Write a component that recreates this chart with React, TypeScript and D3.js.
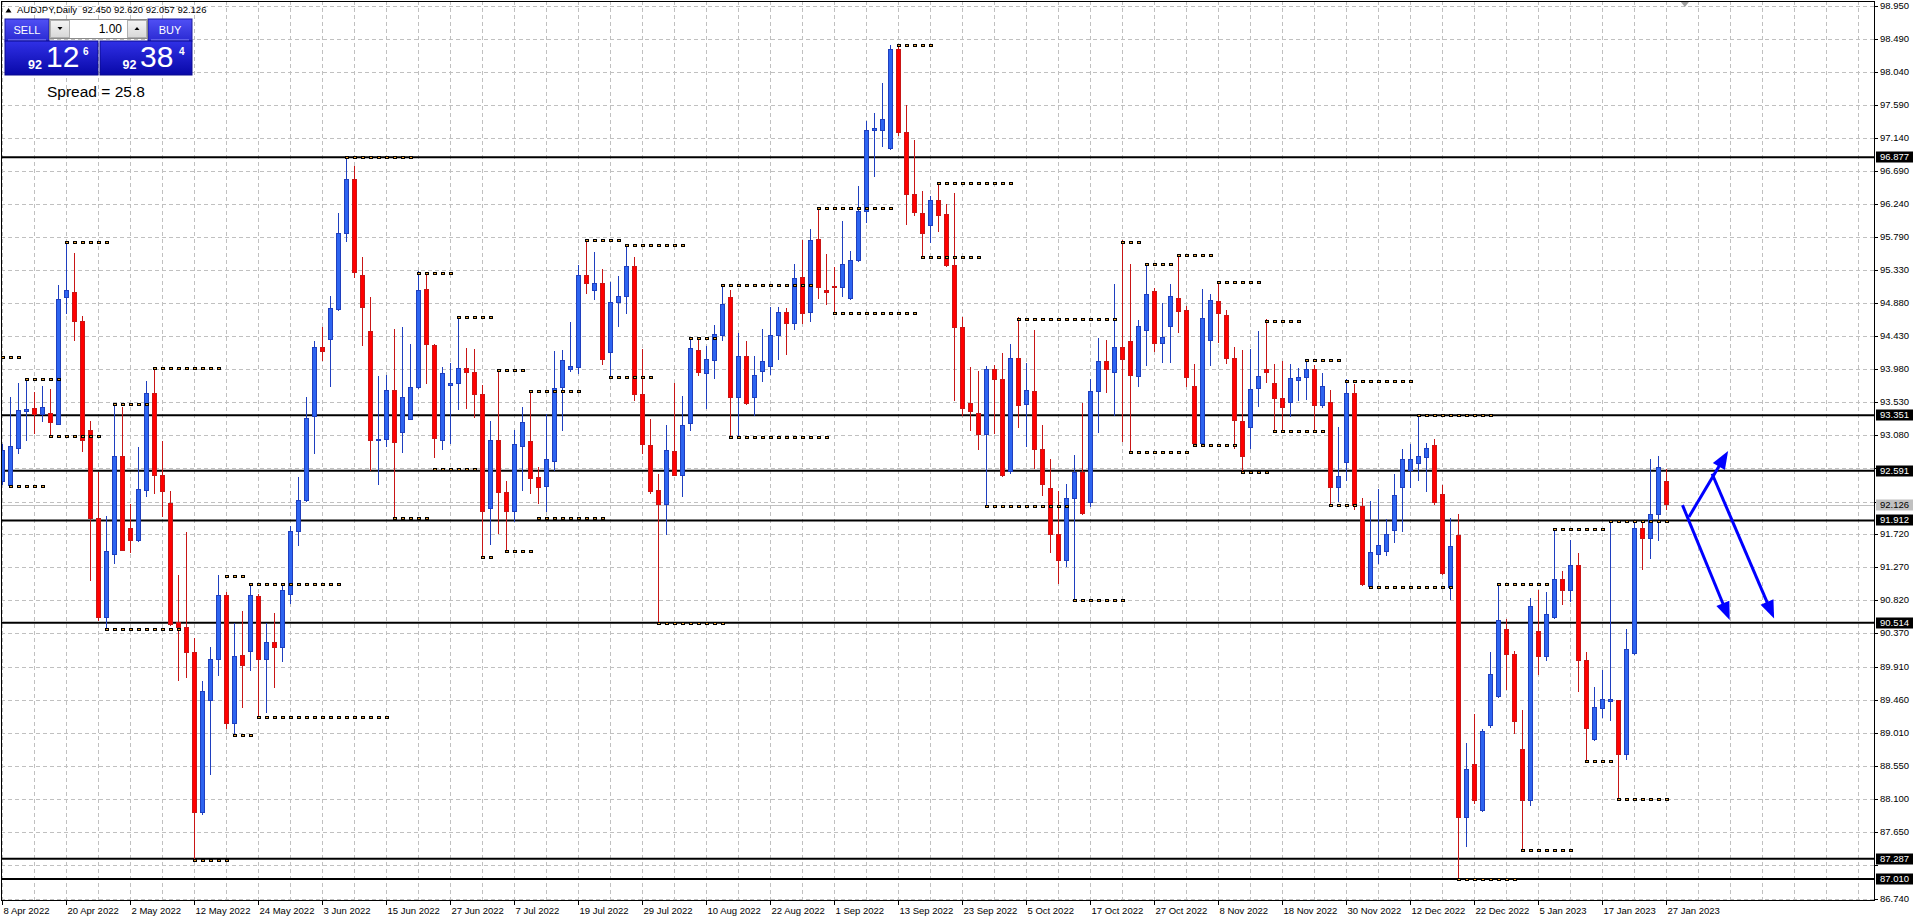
import React from 'react';
import * as d3 from 'd3';

// ---------- DATA ----------
const opens = [
  92.44, 92.39, 92.90, 93.40, 93.44, 93.36, 93.38, 93.23, 94.96, 95.03,
  94.63, 93.14, 91.94, 90.58, 91.45, 92.78, 91.80, 91.64, 92.32, 93.65,
  92.52, 92.14, 90.51, 90.45, 90.11, 87.92, 89.45, 90.01, 90.88, 89.14,
  90.06, 90.12, 90.87, 90.01, 90.24, 90.18, 90.90, 91.76, 92.19, 93.33,
  94.27, 94.38, 94.80, 95.83, 96.58, 95.26, 94.50, 93.00, 93.02, 93.69,
  93.11, 93.29, 93.73, 95.07, 94.31, 93.00, 93.76, 93.78, 93.99, 93.94,
  93.64, 92.08, 93.01, 92.29, 92.03, 92.92, 92.99, 92.50, 92.37, 92.72,
  93.73, 93.97, 94.00, 95.26, 95.06, 95.15, 94.21, 94.89, 94.98, 95.38,
  93.63, 92.94, 92.32, 92.13, 92.85, 92.52, 93.24, 94.24, 93.92, 94.10,
  94.44, 94.96, 93.59, 94.15, 93.59, 93.95, 94.02, 94.44, 94.76, 94.60,
  95.24, 94.75, 95.75, 95.06, 95.11, 95.09, 94.94, 95.46, 96.14, 97.24,
  97.24, 96.997, 98.35, 97.21, 96.37, 96.11, 95.94, 96.28, 96.10, 95.40,
  94.55, 93.51, 93.38, 93.08, 93.98, 93.84, 92.58, 94.12, 93.50, 93.67,
  92.88, 92.35, 91.72, 91.37, 92.21, 92.57, 92.15, 93.67, 94.08, 93.94,
  94.27, 94.36, 93.88, 94.51, 95.04, 94.33, 94.56, 94.95, 94.78, 93.74,
  92.97, 94.37, 94.91, 94.72, 94.12, 93.26, 93.18, 93.71, 93.97, 93.79,
  93.58, 93.52, 93.82, 93.86, 93.97, 93.48, 93.52, 92.36, 92.70, 93.65,
  92.10, 91.01, 91.45, 91.49, 91.78, 92.36, 92.59, 92.69, 92.77, 92.93,
  92.26, 91.00, 91.71, 87.85, 88.57, 87.95, 89.11, 89.50, 90.42, 90.08,
  88.78, 88.08, 90.39, 90.05, 90.59, 91.10, 90.96, 91.30, 89.99, 88.92,
  89.34, 89.44, 89.45, 88.71, 90.09, 91.80, 91.67, 91.99, 92.45,
];
const highs = [
  92.95, 93.60, 93.79, 93.86, 93.67, 93.75, 93.71, 95.13, 95.72, 95.57,
  94.71, 93.27, 92.58, 91.97, 93.51, 93.46, 92.14, 92.92, 93.82, 94.01,
  93.00, 92.32, 91.16, 91.76, 90.31, 89.72, 90.18, 91.16, 90.93, 90.51,
  90.68, 91.04, 90.91, 90.51, 90.64, 91.03, 91.83, 92.50, 93.60, 94.36,
  94.56, 94.98, 96.12, 96.877, 96.76, 95.52, 94.96, 93.88, 93.90, 94.53,
  94.55, 94.33, 95.32, 95.29, 94.33, 94.01, 94.06, 94.71, 94.27, 94.26,
  93.77, 93.27, 93.97, 92.45, 93.15, 93.46, 93.69, 92.64, 93.37, 94.23,
  94.24, 94.63, 95.40, 95.75, 95.58, 95.35, 95.17, 95.25, 95.68, 95.52,
  94.25, 93.30, 92.55, 93.21, 93.79, 93.61, 94.40, 94.40, 94.30, 94.59,
  95.13, 95.06, 94.47, 94.36, 94.16, 94.53, 94.83, 94.83, 94.82, 95.42,
  95.75, 95.90, 96.20, 95.55, 95.38, 96.01, 95.59, 96.49, 97.37, 97.48,
  97.89, 98.41, 98.41, 97.59, 97.12, 96.41, 96.35, 96.53, 96.24, 96.39,
  94.70, 94.01, 93.96, 94.02, 94.04, 94.20, 94.33, 94.69, 94.07, 94.52,
  93.21, 92.75, 92.32, 92.41, 92.81, 93.52, 93.84, 94.40, 94.38, 95.15,
  95.74, 95.42, 94.65, 95.42, 95.09, 94.89, 95.15, 95.54, 94.84, 94.05,
  95.07, 95.01, 95.19, 94.79, 94.28, 94.24, 94.26, 94.50, 94.66, 94.05,
  94.09, 94.05, 94.00, 94.12, 94.04, 93.93, 93.70, 93.19, 93.85, 93.78,
  92.22, 92.18, 92.34, 91.93, 92.55, 92.89, 92.95, 93.351, 92.97, 93.03,
  92.39, 91.94, 92.00, 88.87, 89.26, 89.06, 90.11, 91.06, 90.56, 90.13,
  89.32, 90.85, 90.96, 90.93, 91.81, 91.22, 91.65, 91.47, 90.11, 89.64,
  89.87, 91.912, 89.46, 90.43, 91.89, 91.89, 92.75, 92.79, 92.62,
];
const lows = [
  92.40, 92.35, 92.82, 93.00, 93.09, 93.26, 93.04, 93.21, 94.73, 94.37,
  92.85, 91.08, 90.54, 90.44, 91.31, 91.49, 91.47, 91.62, 92.23, 92.27,
  91.96, 90.47, 89.72, 89.76, 87.287, 87.88, 88.43, 89.78, 89.06, 88.97,
  89.35, 89.85, 89.22, 89.28, 89.62, 89.97, 90.77, 91.56, 92.17, 92.82,
  94.09, 93.74, 94.78, 95.72, 95.22, 94.30, 92.59, 92.40, 92.91, 91.93,
  92.83, 93.28, 93.71, 93.78, 92.77, 92.88, 92.96, 93.42, 93.44, 93.31,
  91.41, 91.57, 91.72, 91.50, 91.89, 92.31, 92.27, 92.14, 92.03, 92.59,
  93.13, 93.94, 93.92, 95.01, 94.92, 94.04, 93.87, 94.55, 94.73, 93.55,
  92.82, 92.27, 90.514, 91.71, 92.52, 92.23, 93.13, 93.88, 93.44, 93.84,
  94.36, 93.05, 93.05, 93.49, 93.34, 93.80, 93.90, 94.10, 94.17, 94.51,
  94.60, 94.62, 94.94, 94.86, 94.75, 94.97, 94.93, 95.45, 95.98, 96.61,
  97.02, 96.97, 97.17, 95.95, 96.07, 95.53, 95.70, 95.85, 95.38, 93.54,
  93.34, 93.13, 92.88, 92.11, 93.09, 92.50, 92.54, 93.18, 92.91, 92.62,
  92.25, 91.47, 91.04, 91.27, 90.83, 91.99, 92.09, 93.11, 93.65, 93.34,
  92.98, 92.85, 93.73, 94.02, 94.21, 94.07, 94.07, 94.48, 93.74, 92.93,
  92.93, 94.03, 94.34, 94.05, 92.89, 92.591, 92.89, 93.46, 93.79, 93.15,
  93.15, 93.32, 93.54, 93.56, 93.15, 93.45, 92.12, 92.16, 92.45, 92.06,
  91.02, 90.97, 91.31, 91.43, 91.60, 91.76, 92.36, 92.45, 92.30, 92.12,
  91.16, 90.82, 87.01, 87.44, 88.04, 87.92, 89.07, 89.48, 89.59, 88.99,
  87.40, 88.00, 89.80, 89.99, 90.56, 90.76, 90.80, 89.56, 88.62, 88.89,
  89.21, 89.17, 88.10, 88.63, 90.07, 91.23, 91.39, 91.63, 92.057,
];
const closes = [
  92.87, 92.92, 93.41, 93.43, 93.36, 93.45, 93.25, 94.93, 95.05, 94.63,
  93.00, 91.94, 90.58, 91.48, 92.79, 91.50, 91.64, 92.34, 93.65, 92.52,
  92.31, 90.49, 90.45, 90.11, 87.92, 89.57, 90.01, 90.88, 89.14, 90.05,
  89.93, 90.88, 90.01, 90.24, 90.18, 90.95, 91.76, 92.19, 93.31, 94.28,
  94.22, 94.81, 95.83, 96.58, 95.30, 94.83, 93.00, 93.02, 93.69, 92.98,
  93.59, 93.73, 95.06, 94.32, 93.03, 93.92, 93.78, 93.99, 93.94, 93.64,
  92.03, 93.01, 92.29, 92.04, 92.95, 93.25, 92.49, 92.36, 92.75, 93.72,
  94.10, 94.01, 95.26, 95.15, 95.15, 94.11, 94.89, 94.97, 95.38, 93.63,
  92.95, 92.31, 92.13, 92.87, 92.53, 93.21, 94.26, 93.94, 94.11, 94.46,
  94.86, 93.59, 94.15, 93.51, 93.90, 94.08, 94.44, 94.76, 94.60, 95.22,
  94.74, 95.74, 95.09, 95.03, 95.09, 95.41, 95.47, 96.14, 97.24, 97.27,
  97.40, 98.35, 97.22, 96.37, 96.12, 95.84, 96.29, 96.08, 95.40, 94.55,
  93.44, 93.40, 93.09, 93.98, 93.84, 92.52, 94.13, 93.48, 93.69, 92.88,
  92.40, 91.72, 91.37, 92.21, 92.57, 92.00, 93.67, 94.09, 93.97, 94.27,
  94.11, 93.90, 94.56, 95.00, 94.33, 94.41, 94.98, 94.77, 93.87, 92.97,
  94.67, 94.92, 94.74, 94.12, 93.28, 92.79, 93.70, 93.88, 93.93, 93.58,
  93.45, 93.85, 93.86, 93.97, 93.48, 93.74, 92.36, 92.51, 93.65, 92.11,
  91.04, 91.47, 91.57, 91.72, 92.25, 92.74, 92.74, 92.78, 92.90, 92.16,
  91.18, 91.56, 87.85, 88.50, 88.08, 89.03, 89.80, 90.54, 90.08, 89.16,
  88.08, 90.74, 90.05, 90.63, 91.11, 90.96, 91.30, 89.99, 89.07, 89.36,
  89.46, 89.46, 88.71, 90.15, 91.80, 91.67, 91.99, 92.63, 92.126,
];

// Date labels, one every 8 daily bars starting with bar 0
const dateLabels = [
  '8 Apr 2022', '20 Apr 2022', '2 May 2022', '12 May 2022', '24 May 2022', '3 Jun 2022',
  '15 Jun 2022', '27 Jun 2022', '7 Jul 2022', '19 Jul 2022', '29 Jul 2022', '10 Aug 2022',
  '22 Aug 2022', '1 Sep 2022', '13 Sep 2022', '23 Sep 2022', '5 Oct 2022', '17 Oct 2022',
  '27 Oct 2022', '8 Nov 2022', '18 Nov 2022', '30 Nov 2022', '12 Dec 2022', '22 Dec 2022',
  '5 Jan 2023', '17 Jan 2023', '27 Jan 2023',
];
const barsPerDateLabel = 8;
const barsPerGridColumn = 4;

// Price axis grid values
const priceTicks = [
  98.95, 98.49, 98.04, 97.59, 97.14, 96.69, 96.24, 95.79, 95.33, 94.88, 94.43, 93.98,
  93.53, 93.08, 92.63, 92.17, 91.72, 91.27, 90.82, 90.37, 89.91, 89.46, 89.01, 88.55,
  88.1, 87.65, 87.2, 86.74,
];

// Horizontal support / resistance lines
const levelLines = [96.877, 93.351, 92.591, 91.912, 90.514, 87.287, 87.01];
const bidPrice = 92.126;

// Dotted fractal levels: start bar, end bar, price
const fractalStart = [0, 1, 3, 6, 8, 13, 14, 19, 24, 28, 29, 31, 32, 43, 49, 52, 54, 57, 60, 62, 63, 66, 67,
  73, 76, 78, 82, 86, 90, 91, 102, 104, 112, 115, 117, 123, 127, 134, 140, 141,
  143, 147, 149, 152, 155, 158, 159, 163, 166, 168, 171, 177, 182, 187, 190, 194, 198, 201, 202];
const fractalEnd = [2, 5, 7, 12, 13, 22, 18, 27, 28, 30, 31, 42, 48, 51, 53, 56, 59, 61, 61, 65, 66, 72, 75,
  77, 81, 85, 90, 89, 101, 103, 111, 114, 116, 122, 126, 133, 139, 140, 142, 148,
  146, 151, 154, 157, 158, 162, 165, 167, 169, 176, 181, 186, 189, 193, 196, 200, 201, 208, 208];
const fractalPrice = [94.14, 92.385, 93.84, 93.06, 95.72, 90.43, 93.51, 94.0, 87.27, 91.15, 88.98, 91.04, 89.22,
  96.877, 91.94, 95.3, 92.62, 94.7, 91.41, 93.97, 91.5, 93.68, 91.94,
  95.75, 93.87, 95.68, 90.514, 94.4, 95.13, 93.05, 96.18, 94.75, 98.41, 95.52, 96.52, 92.11, 94.67, 90.83,
  95.72, 92.85,
  95.42, 95.54, 92.94, 95.17, 92.57, 94.64, 93.13, 94.11, 92.12, 93.82, 91.0, 93.351, 87.01, 91.04, 87.4,
  91.8, 88.62, 91.9, 88.1];

// Forecast arrows (bar position, price)
const arrowFromBar = [210.8, 210.0, 213.7];
const arrowFromPrice = [91.96, 92.12, 92.55];
const arrowToBar = [215.7, 215.9, 221.45];
const arrowToPrice = [92.86, 90.55, 90.57];

// Header / trading panel values
const symbolTitle = 'AUDJPY,Daily  92.450 92.620 92.057 92.126';
const lotSize = '1.00';
const sellQuote = { big: '92', main: '12', pip: '6' };
const buyQuote = { big: '92', main: '38', pip: '4' };
const spreadText = 'Spread = 25.8';

// ---------- LAYOUT ----------
const W = 1917;
const H = 923;
const plotL = 1;
const plotT = 1;
const plotR = 1875;
const plotB = 901;
const FONT = "'Liberation Sans', Arial, sans-serif";

const BULL_FILL = '#2d64f0';
const BULL_LINE = '#1f3fbf';
const BEAR_FILL = '#ff0000';
const BEAR_LINE = '#c81616';

export default function App() {
  const n = opens.length;
  const x = d3.scaleLinear().domain([0, n - 1]).range([2.5, 2.5 + 8 * (n - 1)]);
  const y = d3.scaleLinear().domain([96.877, 87.01]).range([157.3, 878.9]);
  const fmt = d3.format('.3f');

  const gridCols = d3.range(0, Math.floor((plotR - 2.5) / 8) + 1, barsPerGridColumn);

  const highlighted = [...levelLines, bidPrice];
  const visibleTickLabels = priceTicks.filter(
    (p) => !highlighted.some((h) => Math.abs(y(h) - y(p)) < 9)
  );

  const arrows = arrowFromBar.map((b, k) => {
    const x1 = x(b), y1 = y(arrowFromPrice[k]);
    const x2 = x(arrowToBar[k]), y2 = y(arrowToPrice[k]);
    const dx = x2 - x1, dy = y2 - y1;
    const len = Math.hypot(dx, dy);
    const ux = dx / len, uy = dy / len;
    const headLen = 18, headW = 7;
    const bx = x2 - ux * headLen, by = y2 - uy * headLen;
    const head = [
      [x2, y2],
      [bx - uy * headW, by + ux * headW],
      [bx + uy * headW, by - ux * headW],
    ];
    return { x1, y1, x2: bx + ux * 2, y2: by + uy * 2, head };
  });

  const candles = d3.range(n).map((i) => ({
    i, o: opens[i], h: highs[i], l: lows[i], c: closes[i],
  }));

  const axisLabel = (v: number, key: string, bg: string | null, fg: string) => {
    const yy = Math.round(y(v));
    return (
      <g key={key}>
        {bg && <rect x={plotR + 1} y={yy - 5.5} width={37} height={11} fill={bg} />}
        <text x={plotR + 5} y={yy} dy="0.35em" fontSize={9.5} fill={fg} fontFamily={FONT}>{fmt(v)}</text>
      </g>
    );
  };

  return (
    <svg width={W} height={H} viewBox={`0 0 ${W} ${H}`}
      style={{ position: 'fixed', left: 0, top: 0, background: '#fff' }}>
      <defs>
        <clipPath id="plotClip">
          <rect x={plotL} y={plotT} width={plotR - plotL} height={plotB - plotT} />
        </clipPath>
        <linearGradient id="btnGrad" x1="0" y1="0" x2="0" y2="1">
          <stop offset="0" stopColor="#5050f5" />
          <stop offset="1" stopColor="#2a2ad2" />
        </linearGradient>
        <linearGradient id="quoteGrad" x1="0" y1="0" x2="0" y2="1">
          <stop offset="0" stopColor="#3030e6" />
          <stop offset="1" stopColor="#0808a8" />
        </linearGradient>
        <linearGradient id="grayBtn" x1="0" y1="0" x2="0" y2="1">
          <stop offset="0" stopColor="#f4f4f4" />
          <stop offset="1" stopColor="#d8d8d8" />
        </linearGradient>
      </defs>

      <rect x={0} y={0} width={W} height={H} fill="#fff" />

      {/* grid */}
      <g clipPath="url(#plotClip)" shapeRendering="crispEdges">
        {priceTicks.map((p) => (
          <line key={'hg' + p} x1={plotL} x2={plotR} y1={Math.round(y(p)) + 0.5} y2={Math.round(y(p)) + 0.5}
            stroke="#c0c0c0" strokeWidth={1} strokeDasharray="4,3" />
        ))}
        {gridCols.map((b) => (
          <line key={'vg' + b} x1={x(b)} x2={x(b)} y1={plotT} y2={plotB}
            stroke="#c0c0c0" strokeWidth={1} strokeDasharray="4,3" />
        ))}
        {/* bid line */}
        <line x1={plotL} x2={plotR} y1={Math.round(y(bidPrice)) + 0.5} y2={Math.round(y(bidPrice)) + 0.5}
          stroke="#c0c0c0" strokeWidth={1} />
      </g>

      {/* level lines */}
      <g clipPath="url(#plotClip)">
        {levelLines.map((p) => (
          <line key={'lv' + p} x1={plotL} x2={plotR} y1={y(p)} y2={y(p)} stroke="#000" strokeWidth={2} />
        ))}
      </g>

      {/* candles */}
      <g clipPath="url(#plotClip)" shapeRendering="crispEdges">
        {candles.map((d) => {
          const bull = d.c >= d.o;
          const cx = x(d.i);
          const top = y(Math.max(d.o, d.c));
          const bot = y(Math.min(d.o, d.c));
          return (
            <g key={'c' + d.i}>
              <line x1={cx} x2={cx} y1={y(d.h)} y2={y(d.l)} stroke={bull ? BULL_LINE : BEAR_LINE} strokeWidth={1} />
              <rect x={cx - 2} y={top} width={4} height={Math.max(1, bot - top)}
                fill={bull ? BULL_FILL : BEAR_FILL} stroke={bull ? BULL_LINE : BEAR_LINE} strokeWidth={1} />
            </g>
          );
        })}
      </g>

      {/* fractal dotted levels */}
      <g clipPath="url(#plotClip)" shapeRendering="crispEdges">
        {fractalStart.map((s, k) =>
          d3.range(s, fractalEnd[k] + 1).map((b) => (
            <rect key={'f' + k + '_' + b} x={x(b) - 1.5} y={Math.round(y(fractalPrice[k])) - 1}
              width={3} height={2} fill="#f0a030" stroke="#000" strokeWidth={1} />
          ))
        )}
      </g>

      {/* arrows */}
      <g clipPath="url(#plotClip)">
        {arrows.map((a, k) => (
          <g key={'ar' + k}>
            <line x1={a.x1} y1={a.y1} x2={a.x2} y2={a.y2} stroke="#0000ff" strokeWidth={3} />
            <polygon points={a.head.map((p) => p.join(',')).join(' ')} fill="#0000ff" />
          </g>
        ))}
      </g>

      {/* chart shift marker */}
      <path d={`M${x(210.3) - 4},2 L${x(210.3) + 4},2 L${x(210.3)},7 Z`} fill="#a0a0a0" />

      {/* frame */}
      <rect x={plotL + 0.5} y={plotT + 0.5} width={plotR - plotL - 1} height={plotB - plotT - 1}
        fill="none" stroke="#000" strokeWidth={1} shapeRendering="crispEdges" />

      {/* price axis */}
      <g shapeRendering="crispEdges">
        {priceTicks.map((p) => (
          <line key={'pt' + p} x1={plotR} x2={plotR + 3} y1={Math.round(y(p)) + 0.5} y2={Math.round(y(p)) + 0.5} stroke="#000" />
        ))}
      </g>
      {visibleTickLabels.map((p) => axisLabel(p, 'pl' + p, null, '#000'))}
      {axisLabel(bidPrice, 'bid', '#c0c0c0', '#000')}
      {levelLines.map((p) => axisLabel(p, 'll' + p, '#000', '#fff'))}

      {/* date axis */}
      <g shapeRendering="crispEdges">
        {dateLabels.map((t, k) => (
          <line key={'dt' + k} x1={x(k * barsPerDateLabel)} x2={x(k * barsPerDateLabel)} y1={plotB} y2={plotB + 4} stroke="#000" />
        ))}
      </g>
      {dateLabels.map((t, k) => (
        <text key={'dl' + k} x={x(k * barsPerDateLabel) + 1} y={914} fontSize={9.5} fontFamily={FONT} fill="#000">{t}</text>
      ))}

      {/* header */}
      <path d="M5.5,12.5 L8.5,8 L11.5,12.5 Z" fill="#000" />
      <text x={17} y={13} fontSize={9.5} fontFamily={FONT} fill="#000" style={{ whiteSpace: 'pre' }}>{symbolTitle}</text>

      {/* trading panel */}
      <g fontFamily={FONT}>
        <rect x={5} y={19} width={44} height={22} fill="url(#btnGrad)" stroke="#1a1aa0" strokeWidth={1} />
        <text x={27} y={34} fontSize={11} textAnchor="middle" fill="#fff">SELL</text>
        <line x1={8} x2={46} y1={40} y2={40} stroke="#9090ff" strokeWidth={1} />
        <rect x={148} y={19} width={44} height={22} fill="url(#btnGrad)" stroke="#1a1aa0" strokeWidth={1} />
        <text x={170} y={34} fontSize={11} textAnchor="middle" fill="#fff">BUY</text>
        <line x1={151} x2={189} y1={40} y2={40} stroke="#9090ff" strokeWidth={1} />

        <rect x={49.5} y={19.5} width={98} height={19} fill="#fff" stroke="#8a8a8a" strokeWidth={1} />
        <rect x={50.5} y={20.5} width={19} height={17} fill="url(#grayBtn)" stroke="#b0b0b0" strokeWidth={1} />
        <path d="M57.5,27 L62.5,27 L60,30 Z" fill="#000" />
        <rect x={127.5} y={20.5} width={19} height={17} fill="url(#grayBtn)" stroke="#b0b0b0" strokeWidth={1} />
        <path d="M134.5,30 L139.5,30 L137,27 Z" fill="#000" />
        <text x={122} y={33} fontSize={12} textAnchor="end" fill="#000">{lotSize}</text>

        <rect x={5} y={41} width={93} height={34} fill="url(#quoteGrad)" stroke="#0a0a90" strokeWidth={1} />
        <rect x={100} y={41} width={92} height={34} fill="url(#quoteGrad)" stroke="#0a0a90" strokeWidth={1} />
        <text x={28} y={68.5} fontSize={12.5} fontWeight="bold" fill="#fff">{sellQuote.big}</text>
        <text x={46} y={67} fontSize={30} fill="#fff">{sellQuote.main}</text>
        <text x={83} y={55} fontSize={10} fontWeight="bold" fill="#fff">{sellQuote.pip}</text>
        <text x={122.5} y={68.5} fontSize={12.5} fontWeight="bold" fill="#fff">{buyQuote.big}</text>
        <text x={140} y={67} fontSize={30} fill="#fff">{buyQuote.main}</text>
        <text x={179} y={55} fontSize={10} fontWeight="bold" fill="#fff">{buyQuote.pip}</text>

        <text x={47} y={97} fontSize={15.5} fill="#000">{spreadText}</text>
      </g>
    </svg>
  );
}
